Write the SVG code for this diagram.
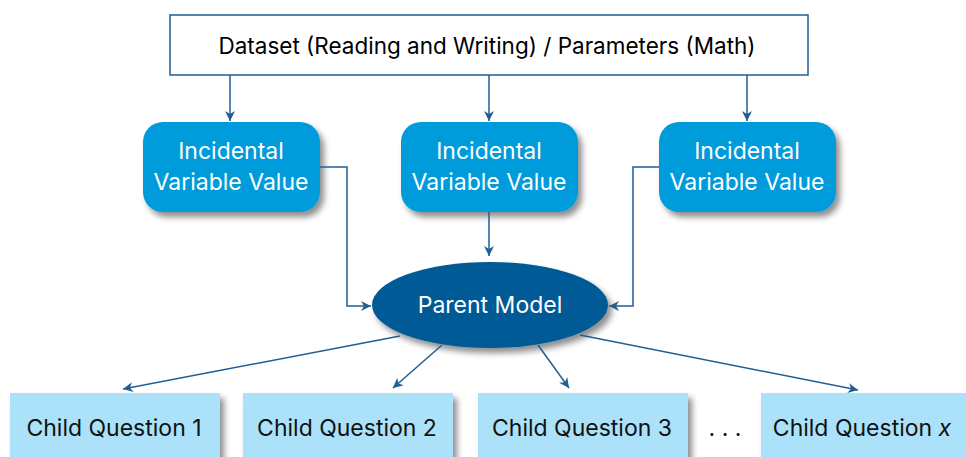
<svg xmlns="http://www.w3.org/2000/svg" width="966" height="457" viewBox="0 0 966 457">
<defs>
<filter id="sh" x="-20%" y="-20%" width="150%" height="160%">
<feGaussianBlur in="SourceAlpha" stdDeviation="3"/>
<feOffset dx="4" dy="5" result="o"/>
<feComponentTransfer><feFuncA type="linear" slope="0.45"/></feComponentTransfer>
<feMerge><feMergeNode/><feMergeNode in="SourceGraphic"/></feMerge>
</filter>
<marker id="ah" viewBox="0 0 10 10" refX="10" refY="5" markerWidth="10" markerHeight="10" markerUnits="userSpaceOnUse" orient="auto">
<path d="M0,0 L10,5 L0,10 L3,5 Z" fill="#1f5f95"/>
</marker>
</defs>
<style>
text{font-family:Inter,"Noto Sans","Liberation Sans",sans-serif;font-size:23px;text-anchor:middle}
.inc rect{fill:#009bda}
.inc text{fill:#fff}
.ch rect{fill:#abe1f9}
.ch text{fill:#111}
.c{fill:none;stroke:#1f5f95;stroke-width:1.5;marker-end:url(#ah)}
</style>
<rect width="966" height="457" fill="#fff"/>
<g id="top">
<rect x="170" y="15" width="638" height="60" fill="#fff" stroke="#1f5f95" stroke-width="1.5"/>
<text x="487" y="54" style="font-size:22.5px">Dataset (Reading and Writing) / Parameters (Math)</text>
</g>
<g id="inc1" class="inc">
<rect x="143" y="122" width="177" height="90" rx="20" filter="url(#sh)"/>
<text x="231" y="159">Incidental</text>
<text x="231" y="190">Variable Value</text>
</g>
<g id="inc2" class="inc">
<rect x="401" y="122" width="177" height="90" rx="20" filter="url(#sh)"/>
<text x="489" y="159">Incidental</text>
<text x="489" y="190">Variable Value</text>
</g>
<g id="inc3" class="inc">
<rect x="659" y="122" width="177" height="90" rx="20" filter="url(#sh)"/>
<text x="747" y="159">Incidental</text>
<text x="747" y="190">Variable Value</text>
</g>
<g id="parent">
<ellipse cx="490" cy="305" rx="118" ry="43" fill="#005a96" filter="url(#sh)"/>
<text x="490" y="313" fill="#fff">Parent Model</text>
</g>
<g id="child1" class="ch">
<rect x="10" y="393" width="210" height="70" filter="url(#sh)"/>
<text x="114" y="436">Child Question 1</text>
</g>
<g id="child2" class="ch">
<rect x="243" y="393" width="210" height="70" filter="url(#sh)"/>
<text x="347" y="436">Child Question 2</text>
</g>
<g id="child3" class="ch">
<rect x="478" y="393" width="210" height="70" filter="url(#sh)"/>
<text x="582" y="436">Child Question 3</text>
</g>
<g id="dots">
<text x="725" y="436" fill="#111">. . .</text>
</g>
<g id="childx" class="ch">
<rect x="761" y="393" width="210" height="70" filter="url(#sh)"/>
<text x="862" y="436">Child Question <tspan font-style="italic">x</tspan></text>
</g>
<g id="connectors">
<path class="c" d="M230,75 V121"/>
<path class="c" d="M489,75 V121"/>
<path class="c" d="M747,75 V121"/>
<path class="c" d="M489,212 V256"/>
<path class="c" d="M320,167 H347 V306 H371"/>
<path class="c" d="M659,167 H633 V306 H609"/>
<path class="c" d="M400,336 L123,389"/>
<path class="c" d="M442,345 L393,388"/>
<path class="c" d="M538,345 L569,388"/>
<path class="c" d="M580,335 L858,390"/>
</g>
</svg>
